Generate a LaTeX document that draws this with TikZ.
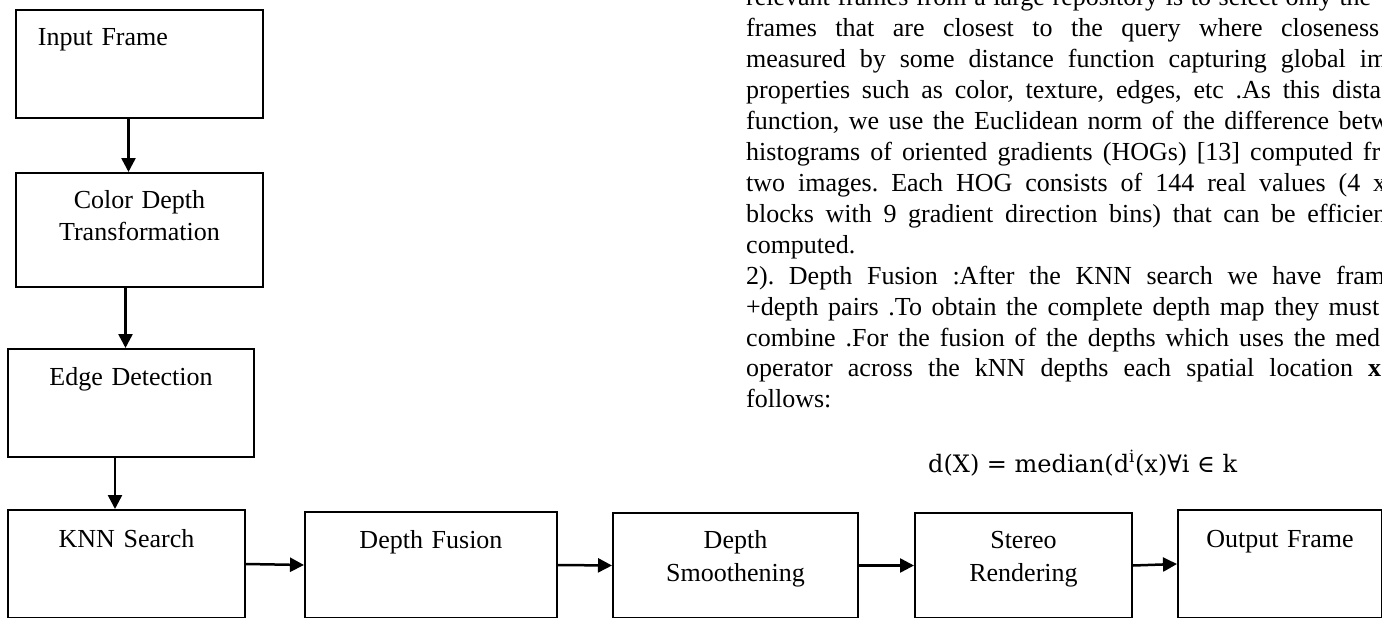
\documentclass[tikz,border=0pt]{standalone}
\usepackage{fontspec}
\setmainfont{Liberation Serif}
\newfontfamily\eqfont{DejaVu Serif}
\usetikzlibrary{arrows.meta}
\frenchspacing

\begin{document}
\begin{tikzpicture}[x=1pt, y=-1pt,
    block/.style={draw=black, line width=2pt, anchor=north west, align=center, inner xsep=0pt, inner ysep=0pt, font=\fontsize{26}{32}\selectfont},
    flow/.style={line width=2.5pt, -{Triangle[length=14pt,width=14pt]}},
    line/.style={anchor=base west, inner sep=0pt, font=\fontsize{26}{31}\selectfont}]

     \useasboundingbox (0,0) rectangle (1382,618);
     \clip (0,0) rectangle (1382,618);

     % Bloques de la columna izquierda
     \node[block, text width=247pt, align=left, text height=36pt, text depth=72pt] (inp) at (15,9) {\hspace*{22pt}Input Frame};
     \node[block, text width=247pt, text height=35pt, text depth=79pt] (cdt) at (15,172) {Color Depth\\Transformation};
     \node[block, text width=246pt, text height=36pt, text depth=72pt] (edge) at (7,348) {Edge Detection};

     % Bloques de la fila inferior
     \node[block, text width=237pt, text height=37pt, text depth=71pt] (knn) at (7,509) {KNN Search};
     \node[block, text width=252pt, text height=36pt, text depth=70pt] (fus) at (304,511) {Depth Fusion};
     \node[block, text width=245pt, text height=35pt, text depth=70pt, font=\fontsize{26}{33}\selectfont] (smo) at (612,512) {Depth\\Smoothening};
     \node[block, text width=217pt, text height=35pt, text depth=70pt, font=\fontsize{26}{33}\selectfont] (ste) at (914,512) {Stereo\\Rendering};
     \node[block, text width=204pt, text height=37pt, text depth=71pt] (out) at (1177,509) {Output Frame};

     % Flechas verticales
     \draw[flow] ([xshift=-11pt]inp.south) -- ([xshift=-11pt]inp.south |- cdt.north);
     \draw[flow] ([xshift=-14pt]cdt.south) -- ([xshift=-14pt]cdt.south |- edge.north);
     \draw[flow] ([xshift=-16pt]edge.south) -- ([xshift=-16pt]edge.south |- knn.north);

     % Flechas horizontales
     \draw[flow] (knn.east) -- (fus.west);
     \draw[flow] (fus.east) -- (smo.west);
     \draw[flow] (smo.east) -- (ste.west);
     \draw[flow] (ste.east) -- (out.west);

     % Texto del artículo a la derecha
     \node[line] (t0) at (746,6) {\makebox[625pt][s]{relevant frames from a large repository is to select only the}};
     \node[line] (t1) at (746,37) {\makebox[633pt][s]{frames that are closest to the query where closeness}};
     \node[line] (t2) at (746,67.9) {\makebox[641pt][s]{measured by some distance function capturing global im}};
     \node[line] (t3) at (746,98.8) {\makebox[635pt][s]{properties such as color, texture, edges, etc .As this dista}};
     \node[line] (t4) at (746,129.7) {\makebox[643pt][s]{function, we use the Euclidean norm of the difference betw}};
     \node[line] (t5) at (746,160.6) {\makebox[634pt][s]{histograms of oriented gradients (HOGs) [13] computed fr}};
     \node[line] (t6) at (746,191.5) {\makebox[640pt][s]{two images. Each HOG consists of 144 real values (4 x}};
     \node[line] (t7) at (746,222.4) {\makebox[640pt][s]{blocks with 9 gradient direction bins) that can be efficien}};
     \node[line] (t8) at (746,253.3) {computed.};
     \node[line] (t9) at (746,284.2) {\makebox[639pt][s]{2). Depth Fusion :After the KNN search we have fram}};
     \node[line] (t10) at (746,315.1) {\makebox[633pt][s]{+depth pairs .To obtain the complete depth map they must}};
     \node[line] (t11) at (746,346) {\makebox[634pt][s]{combine .For the fusion of the depths which uses the med}};
     \node[line] (t12) at (746,376.9) {\makebox[635pt][s]{operator across the kNN depths each spatial location \textbf{x}}};
     \node[line] (t13) at (746,407.8) {follows:};

     % Ecuación de la mediana
     \node[line, font=\eqfont\fontsize{24}{29}\selectfont] (eq) at (928,472) {d(X) = median(d\textsuperscript{i}(x)∀i ∈ k};

   \end{tikzpicture}
\end{document}
